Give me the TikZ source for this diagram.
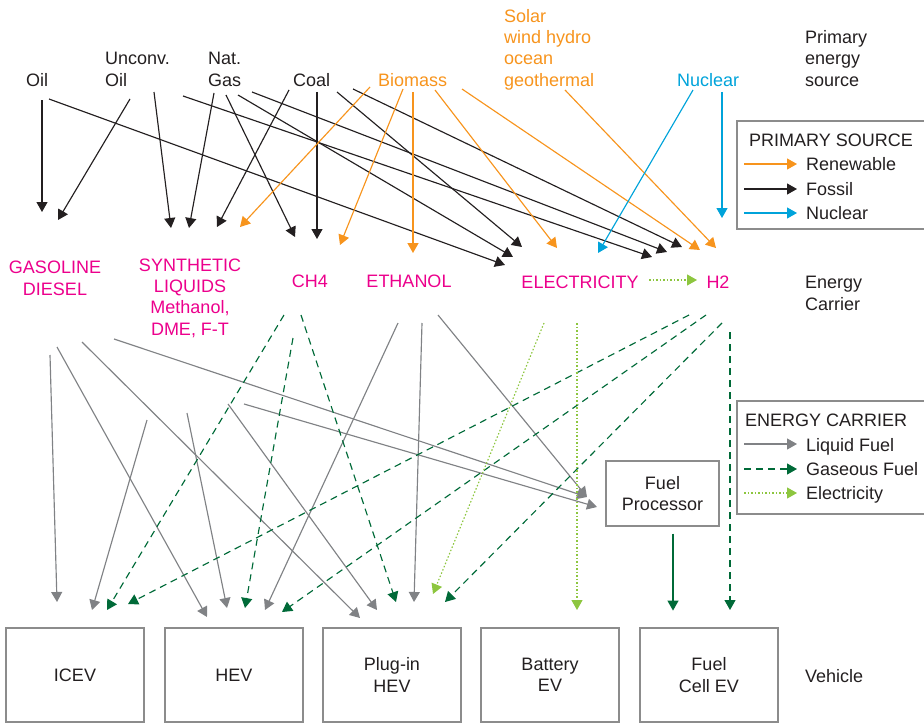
\documentclass[tikz,border=0pt]{standalone}
\usepackage{fontspec}
\setmainfont{Liberation Sans}
\usetikzlibrary{arrows.meta}

\definecolor{orng}{RGB}{247,148,29}
\definecolor{nucblue}{RGB}{0,163,218}
\definecolor{carrier}{RGB}{236,0,140}
\definecolor{inkblack}{RGB}{35,31,32}
\definecolor{liqgray}{RGB}{128,130,133}
\definecolor{gasgreen}{RGB}{0,106,56}
\definecolor{elecgreen}{RGB}{141,198,63}
\definecolor{boxgray}{RGB}{140,140,140}

\newcommand\labelfont{\fontsize{18}{21.3}\selectfont}

% multi-line labels are placed by the baseline of their last line
\tikzset{
  lbl/.style={font=\labelfont, text=inkblack, inner sep=0pt, align=left, anchor=base west},
  clbl/.style={font=\labelfont, text=carrier, inner sep=0pt, align=center, anchor=base},
  vbox/.style={draw=boxgray, line width=1.2pt, font=\labelfont, text=inkblack, align=center,
               minimum width=138pt, minimum height=94pt, inner sep=0pt},
  arr/.style={-{Triangle[length=10pt,width=11pt]}, line width=1.15pt},
  renew/.style={arr, draw=orng},
  fossil/.style={arr, draw=inkblack},
  nuc/.style={arr, draw=nucblue},
  liquid/.style={arr, draw=liqgray},
  gasf/.style={arr, draw=gasgreen, dash pattern=on 7pt off 5pt},
  elecf/.style={arr, draw=elecgreen, dash pattern=on 1.5pt off 2pt},
  gassolid/.style={arr, draw=gasgreen},
}

\begin{document}
\begin{tikzpicture}[x=1pt,y=-1pt]
\useasboundingbox (0,0) rectangle (924,725);

% ---------- primary energy sources ----------
\node[lbl] (oil) at (26,86) {Oil};
\node[lbl] (uoil) at (105,86) {Unconv.\\Oil};
\node[lbl] (ngas) at (208,86) {Nat.\\Gas};
\node[lbl] (coal) at (293,86) {Coal};
\node[lbl, text=orng] (bio) at (378,86) {Biomass};
\node[lbl, text=orng] (solar) at (504,86) {Solar\\wind hydro\\ocean\\geothermal};
\node[lbl, text=nucblue] (nuc) at (677,86) {Nuclear};
\node[lbl] (prim) at (805,86) {Primary\\energy\\source};

% ---------- energy carriers ----------
\node[clbl] (gasol) at (55,295) {GASOLINE\\DIESEL};
\node[clbl] (synl) at (190,335) {SYNTHETIC\\LIQUIDS\\Methanol,\\DME, F-T};
\node[clbl] (ch4) at (310,287) {CH4};
\node[clbl] (eth) at (409,287) {ETHANOL};
\node[clbl] (elec) at (580,288) {ELECTRICITY};
\node[clbl] (htwo) at (718,288) {H2};
\node[lbl] (ecar) at (805,310) {Energy\\Carrier};

% ---------- vehicles ----------
\node[vbox] (icev) at (75,675) {ICEV};
\node[vbox] (hev) at (234,675) {HEV};
\node[vbox] (phev) at (392,675) {Plug-in\\HEV};
\node[vbox] (bev) at (550,675) {Battery\\EV};
\node[vbox] (fcev) at (709,675) {Fuel\\Cell EV};
\node[lbl] (veh) at (805,682) {Vehicle};

\node[vbox, minimum width=113pt, minimum height=65pt] (fproc) at (662.5,493.5) {Fuel\\Processor};

% ---------- fossil sources to carriers ----------
\draw[fossil] (42,100) -- (42,212);
\draw[fossil] (130,99) -- (58,220);
\draw[fossil] (154,92) -- (171,228);
\draw[fossil] (214,93) -- (189,228);
\draw[fossil] (289,90) -- (217,227);
\draw[fossil] (226,95) -- (295,237);
\draw[fossil] (317,92) -- (317,239);
\draw[fossil] (49,99) -- (505,265);
\draw[fossil] (183,96) -- (652,257);
\draw[fossil] (238,95) -- (513,257);
\draw[fossil] (252,92) -- (667,252);
\draw[fossil] (337,92) -- (522,247);
\draw[fossil] (353,89) -- (682,247);

% ---------- renewable sources ----------
\draw[renew] (370,87) -- (240,227);
\draw[renew] (403,89) -- (340,245);
\draw[renew, line width=1.4pt] (413,92) -- (413,253);
\draw[renew] (435,90) -- (557,248);
\draw[renew] (462,89) -- (700,250);
\draw[renew] (565,90) -- (716,248);

% ---------- nuclear ----------
\draw[nuc] (693,90) -- (598,253);
\draw[nuc] (722,92) -- (722,218);

% electrolysis
\draw[elecf] (649,280) -- (697,280);

% ---------- liquid fuels to vehicles ----------
\draw[liquid] (50,355) -- (57,602);
\draw[liquid] (57,347) -- (207,617);
\draw[liquid] (82,342) -- (360,618);
\draw[liquid] (114,339) -- (587,497);
\draw[liquid] (244,404) -- (597,507);
\draw[liquid] (147,420) -- (92,610);
\draw[liquid] (187,413) -- (227,608);
\draw[liquid] (228,404) -- (377,610);
\draw[liquid] (398,323) -- (265,610);
\draw[liquid] (422,323) -- (414,602);
\draw[liquid] (438,315) -- (587,497);

% ---------- gaseous fuels ----------
\draw[gasf] (284,315) -- (107,610);
\draw[gasf] (293,338) -- (245,608);
\draw[gasf] (301,315) -- (396,602);
\draw[gasf] (689,315) -- (128,604);
\draw[gasf] (706,315) -- (282,612);
\draw[gasf] (722,323) -- (445,602);
\draw[gasf] (730,332) -- (730,610);

% ---------- electricity ----------
\draw[elecf] (544,323) -- (433,594);
\draw[elecf] (577,323) -- (577,610);

% fuel processor to fuel cell vehicle
\draw[gassolid] ([xshift=10.5pt,yshift=-7pt]fproc.south) -- ++(0,77);

% ---------- legend: primary source ----------
\draw[boxgray, line width=1.2pt] (925,121) -| (737,229) -- (925,229);
\node[lbl] (lgp) at (749,146) {PRIMARY SOURCE};
\node[lbl] (lgren) at (806,170) {Renewable};
\node[lbl] (lgfos) at (806,195) {Fossil};
\node[lbl] (lgnuc) at (806,219) {Nuclear};
\draw[renew] (744,164) -- (797,164);
\draw[fossil] (744,189) -- (797,189);
\draw[nuc] (744,213) -- (797,213);

% ---------- legend: energy carrier ----------
\draw[boxgray, line width=1.2pt] (925,401) -| (737,514) -- (925,514);
\node[lbl] (lgc) at (745,426) {ENERGY CARRIER};
\node[lbl] (lgliq) at (806,451) {Liquid Fuel};
\node[lbl] (lggas) at (806,475) {Gaseous Fuel};
\node[lbl] (lgel) at (806,499) {Electricity};
\draw[liquid] (744,444) -- (797,444);
\draw[gasf] (744,469) -- (797,469);
\draw[elecf] (744,493) -- (797,493);
\end{tikzpicture}
\end{document}
